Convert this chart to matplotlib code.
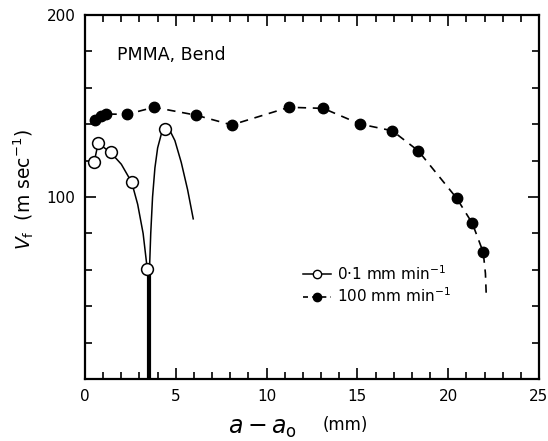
import matplotlib
matplotlib.use("Agg")
import matplotlib.pyplot as plt
from matplotlib.ticker import MultipleLocator
from matplotlib.lines import Line2D

# ---- data ----
# 0.1 mm/min (open circles)
slow_x = [0.51, 0.73, 1.41, 2.57, 3.43, 4.40]
slow_y = [119.4, 129.8, 124.5, 108.1, 60.3, 137.2]
# hand-drawn curve through the slow data (left branch)
slow_curve_left_x = [0.51, 0.73, 1.0, 1.41, 2.0, 2.57, 2.9, 3.2, 3.43]
slow_curve_left_y = [119.4, 129.8, 127.5, 124.5, 118.0, 108.1, 96.0, 80.0, 60.3]
# fracture drop (thick vertical line)
drop_x = [3.50, 3.50]
drop_y = [0.0, 60.0]
# right branch of the slow curve
slow_curve_right_x = [3.55, 3.62, 3.72, 3.85, 4.0, 4.2, 4.4, 4.65, 4.95, 5.3, 5.65, 5.96]
slow_curve_right_y = [60.0, 80.0, 100.0, 116.0, 127.0, 134.5, 137.5, 137.0, 131.0, 119.0, 104.0, 88.0]

# 100 mm/min (filled circles)
fast_x = [0.55, 0.90, 1.15, 2.30, 3.80, 6.10, 8.08, 11.23, 13.12, 15.14,
          16.92, 18.35, 20.47, 21.33, 21.93]
fast_y = [142.3, 144.5, 145.6, 145.4, 149.3, 145.0, 139.6, 149.3, 148.7, 140.1,
          136.4, 125.4, 99.3, 85.5, 69.6]
# dashed tail below the last point
fast_tail_x = [21.93, 22.05, 22.1]
fast_tail_y = [69.6, 58.0, 45.0]

x_ticks = [0, 5, 10, 15, 20, 25]
y_ticks = [0, 100, 200]
y_ticklabels = ["", "100", "200"]

plt.rcParams['font.family'] = ['DejaVu Sans']

fig = plt.figure(figsize=(5.48, 4.41), dpi=100)
ax = fig.add_axes([85/548, (441-379)/441, (539-85)/548, (379-15)/441])

lw = 1.1
# slow curves
ax.plot(slow_curve_left_x, slow_curve_left_y, color='black', lw=lw, zorder=2)
ax.plot(slow_curve_right_x, slow_curve_right_y, color='black', lw=lw, zorder=2)
ax.plot(drop_x, drop_y, color='black', lw=3.0, solid_capstyle='butt', zorder=2)
ax.plot(slow_x, slow_y, linestyle='none', marker='o', markersize=8.5,
        markerfacecolor='white', markeredgecolor='black', markeredgewidth=1.1, zorder=3)

# fast dashed
ax.plot(fast_x + fast_tail_x[1:], fast_y + fast_tail_y[1:], color='black', lw=1.2,
        dashes=(5, 4), zorder=2)
ax.plot(fast_x, fast_y, linestyle='none', marker='o', markersize=7.5,
        markerfacecolor='black', markeredgecolor='black', zorder=3)

ax.set_xlim(0, 25)
ax.set_ylim(0, 200)
ax.set_xticks(x_ticks)
ax.set_yticks(y_ticks)
ax.set_yticklabels(y_ticklabels)
ax.xaxis.set_minor_locator(MultipleLocator(1))
ax.yaxis.set_minor_locator(MultipleLocator(20))
ax.tick_params(which='both', direction='in', top=True, right=True, width=1.2,
               labelsize=11, pad=7)
ax.tick_params(which='major', length=8)
ax.tick_params(which='minor', length=5)
for s in ax.spines.values():
    s.set_linewidth(1.6)

ax.text(0.07, 0.89, "PMMA, Bend", transform=ax.transAxes, fontsize=12.5,
        ha='left', va='center')

# axis labels
fig.text(263/548, 1 - 428/441, r"$a - a_{\rm o}$", fontsize=17, ha='center', va='center')
fig.text(345/548, 1 - 425/441, "(mm)", fontsize=12, ha='center', va='center')
fig.text(24/548, 1 - 190/441, r"$V_{\rm f}$  (m sec$^{-1}$)", fontsize=13.5,
         rotation=90, ha='center', va='center')

handles = [
    Line2D([], [], color='black', lw=lw, marker='o', markersize=6,
           markerfacecolor='white', markeredgecolor='black'),
    Line2D([], [], color='black', lw=1.2, dashes=(3, 2.5), marker='o', markersize=6,
           markerfacecolor='black'),
]
ax.legend(handles, ["0·1 mm min$^{-1}$", "100 mm min$^{-1}$"], loc='upper left',
          bbox_to_anchor=((303-85)/454, (379-264)/364), frameon=False, fontsize=11,
          handlelength=1.8, handletextpad=0.4, borderpad=0, borderaxespad=0,
          labelspacing=0.25)

fig.savefig("out.png", dpi=100)
